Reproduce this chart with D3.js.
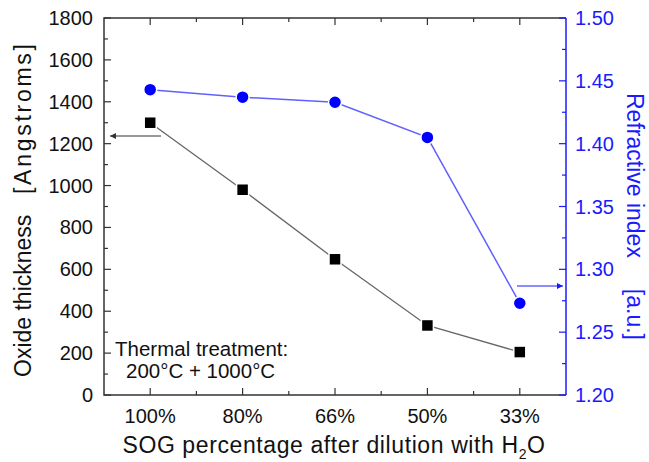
<!DOCTYPE html>
<html>
<head>
<meta charset="utf-8">
<script src="https://cdn.jsdelivr.net/npm/d3@7.9.0/dist/d3.min.js"></script>
<style>
  body { margin: 0; background: #fff; }
  svg text { font-family: "Liberation Sans", Arial, sans-serif; }
</style>
</head>
<body>
<svg id="chart" width="649" height="462"></svg>
<script>
// data
const categories = ['100%', '80%', '66%', '50%', '33%'];
const thickness = [1300, 980, 648, 332, 205];
const refractive = [1.443, 1.437, 1.433, 1.405, 1.273];
const leftTicks = [0, 200, 400, 600, 800, 1000, 1200, 1400, 1600, 1800];
const rightTicks = [1.20, 1.25, 1.30, 1.35, 1.40, 1.45, 1.50];

const svg = d3.select('#chart');
const plotL = 104, plotR = 566, plotT = 18, plotB = 395;
const blue = '#1a1aff';

let x = d3.scaleLinear().domain([-0.5, categories.length - 0.5]).range([plotL, plotR]);
let yL = d3.scaleLinear().domain([0, 1800]).range([plotB, plotT]);
let yR = d3.scaleLinear().domain([1.2, 1.5]).range([plotB, plotT]);

// frame: bottom, top, left in dark grey; right in blue
svg.append('path')
  .attr('d', `M${plotR},${plotT}H${plotL}V${plotB}H${plotR}`)
  .attr('fill', 'none').attr('stroke', '#333').attr('stroke-width', 1.5);
svg.append('line')
  .attr('x1', plotR).attr('x2', plotR).attr('y1', plotT).attr('y2', plotB)
  .attr('stroke', blue).attr('stroke-width', 1.5);

// x ticks (inward, bottom and top), minor in between
const xMinor = d3.range(0.5, categories.length - 0.5, 1);
categories.forEach((c, i) => {
  svg.append('line').attr('x1', x(i)).attr('x2', x(i)).attr('y1', plotB).attr('y2', plotB - 7).attr('stroke', '#333').attr('stroke-width', 1.2);
  svg.append('line').attr('x1', x(i)).attr('x2', x(i)).attr('y1', plotT).attr('y2', plotT + 7).attr('stroke', '#333').attr('stroke-width', 1.2);
  svg.append('text').attr('x', x(i)).attr('y', 423).attr('text-anchor', 'middle')
    .attr('font-size', 20).attr('fill', '#111').text(c);
});
xMinor.forEach(v => {
  svg.append('line').attr('x1', x(v)).attr('x2', x(v)).attr('y1', plotB).attr('y2', plotB - 4).attr('stroke', '#333').attr('stroke-width', 1.2);
  svg.append('line').attr('x1', x(v)).attr('x2', x(v)).attr('y1', plotT).attr('y2', plotT + 4).attr('stroke', '#333').attr('stroke-width', 1.2);
});

// left axis ticks
leftTicks.forEach(v => {
  svg.append('line').attr('x1', plotL).attr('x2', plotL + 7).attr('y1', yL(v)).attr('y2', yL(v)).attr('stroke', '#333').attr('stroke-width', 1.2);
  if (v < 1800) svg.append('line').attr('x1', plotL).attr('x2', plotL + 4).attr('y1', yL(v + 100)).attr('y2', yL(v + 100)).attr('stroke', '#333').attr('stroke-width', 1.2);
  svg.append('text').attr('x', 93).attr('y', yL(v) + 7).attr('text-anchor', 'end')
    .attr('font-size', 20).attr('fill', '#111').text(v);
});

// right axis ticks
rightTicks.forEach(v => {
  svg.append('line').attr('x1', plotR).attr('x2', plotR - 7).attr('y1', yR(v)).attr('y2', yR(v)).attr('stroke', blue).attr('stroke-width', 1.2);
  if (v < 1.5) svg.append('line').attr('x1', plotR).attr('x2', plotR - 4).attr('y1', yR(v + 0.025)).attr('y2', yR(v + 0.025)).attr('stroke', blue).attr('stroke-width', 1.2);
  svg.append('text').attr('x', 575).attr('y', yR(v) + 7).attr('text-anchor', 'start')
    .attr('font-size', 20).attr('fill', blue).text(v.toFixed(2));
});

// axis titles (two parts each, with a wide gap)
svg.append('text').attr('transform', 'translate(31,377) rotate(-90)')
  .attr('font-size', 23).attr('fill', '#111').text('Oxide thickness');
svg.append('text').attr('transform', 'translate(31,194) rotate(-90)')
  .attr('font-size', 23).attr('fill', '#111')
  .attr('textLength', 150).attr('lengthAdjust', 'spacing').text('[Angstroms]');
svg.append('text').attr('transform', 'translate(627,93) rotate(90)')
  .attr('font-size', 23).attr('fill', blue).text('Refractive index');
svg.append('text').attr('transform', 'translate(627,340) rotate(90)')
  .attr('text-anchor', 'end').attr('font-size', 23).attr('fill', blue).text('[a.u.]');
let xt = svg.append('text').attr('x', 334).attr('y', 453).attr('text-anchor', 'middle')
  .attr('font-size', 23).attr('letter-spacing', 0.6).attr('fill', '#111');
xt.append('tspan').text('SOG percentage after dilution with H');
xt.append('tspan').attr('font-size', 14).attr('dy', 6).text('2');
xt.append('tspan').attr('dy', -6).text('O');

// annotation
svg.append('text').attr('x', 115).attr('y', 356).attr('font-size', 20.5).attr('fill', '#111').text('Thermal treatment:');
svg.append('text').attr('x', 126).attr('y', 378).attr('font-size', 20.5).attr('fill', '#111').text('200°C + 1000°C');

// lines
const lineL = d3.line().x((d, i) => x(i)).y(d => yL(d));
const lineR = d3.line().x((d, i) => x(i)).y(d => yR(d));
svg.append('path').attr('d', lineL(thickness)).attr('fill', 'none').attr('stroke', '#666').attr('stroke-width', 1.3);
svg.append('path').attr('d', lineR(refractive)).attr('fill', 'none').attr('stroke', '#6060ff').attr('stroke-width', 1.5);

// markers
thickness.forEach((v, i) => {
  svg.append('rect').attr('x', x(i) - 6).attr('y', yL(v) - 6).attr('width', 12).attr('height', 12)
    .attr('fill', '#000').attr('stroke', '#fff').attr('stroke-width', 1.5);
});
refractive.forEach((v, i) => {
  svg.append('circle').attr('cx', x(i)).attr('cy', yR(v)).attr('r', 6.5)
    .attr('fill', '#0000ff').attr('stroke', '#fff').attr('stroke-width', 1.5);
});

// arrows pointing to the axes
svg.append('defs').selectAll('marker').data([['ah', '#333'], ['ahb', blue]]).join('marker')
  .attr('id', d => d[0]).attr('viewBox', '0 0 10 10').attr('refX', 10).attr('refY', 5)
  .attr('markerWidth', 7).attr('markerHeight', 5).attr('orient', 'auto')
  .append('path').attr('d', 'M0,0L10,5L0,10z').attr('fill', d => d[1]);
svg.append('line').attr('x1', 161).attr('x2', 110).attr('y1', 136).attr('y2', 136)
  .attr('stroke', '#333').attr('stroke-width', 1.2).attr('marker-end', 'url(#ah)');
svg.append('line').attr('x1', 517).attr('x2', 563).attr('y1', 286).attr('y2', 286)
  .attr('stroke', blue).attr('stroke-width', 1.2).attr('marker-end', 'url(#ahb)');
</script>
</body>
</html>
